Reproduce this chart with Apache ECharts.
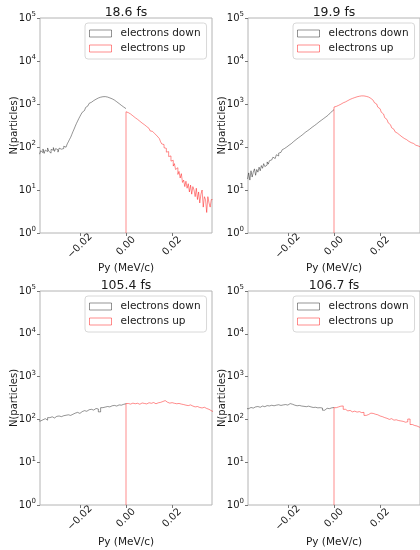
<!DOCTYPE html>
<html>
<head>
<meta charset="utf-8">
<script src="https://cdn.jsdelivr.net/npm/echarts@6/dist/echarts.min.js"></script>
<style>
  html, body { margin: 0; padding: 0; background: #ffffff; }
  #chart { width: 420px; height: 550px; }
</style>
</head>
<body>
<div id="chart"></div>
<script>
// Py spectra of spin-down / spin-up electrons at four snapshot times
const panelTitles = ['18.6 fs', '19.9 fs', '105.4 fs', '106.7 fs'];
const seriesNames = ['electrons down', 'electrons up'];
const xTickValues = [-0.02, 0, 0.02];
const yTickValues = [1, 10, 100, 1000, 10000, 100000];
const xLimit = 0.0373;

// histogram bin widths (MeV/c)
const binWidthEarly = 0.0005;
const binWidthLate = 0.001;

// counts per bin; "down" bins end at Py = 0, "up" bins start at Py = 0
const down18_6 = [68, 82, 74, 90, 71, 85, 78, 95, 80, 72, 88, 84, 97, 79, 92, 86, 76, 94, 89, 98,
  92, 104, 99, 110, 118, 132, 150, 168, 196, 228,
  262, 305, 352, 400, 455, 512, 575, 640, 705, 770,
  830, 905, 975, 1035, 1095, 1150, 1200, 1248, 1290, 1335,
  1378, 1410, 1440, 1465, 1478, 1490, 1485, 1470, 1450, 1420,
  1385, 1350, 1318, 1275, 1232, 1180, 1125, 1075, 1025, 975,
  930, 890, 850, 815, 780];
const up18_6 = [660, 630, 600, 585, 560, 530, 505, 480, 462, 440,
  420, 398, 385, 360, 345, 330, 310, 298, 282, 270,
  255, 236, 231, 208, 204, 184, 180, 162, 156, 141,
  132, 118, 114, 96, 93, 76, 78, 60, 62, 47,
  49, 36, 41, 30, 33, 23, 27, 19, 24, 15,
  17, 12, 16, 11, 14, 9, 13, 8, 12, 10,
  7, 11, 6, 9, 5, 8, 10, 4, 7, 6,
  3, 7, 5, 4, 6];
const down19_9 = [18, 25, 17, 28, 20, 26, 31, 22, 30, 26,
  34, 28, 37, 32, 41, 35, 38, 45, 40, 48,
  50, 47, 58, 54, 60, 66, 62, 72, 75, 80,
  86, 92, 88, 100, 104, 110, 116, 120, 130, 134,
  142, 148, 158, 163, 174, 178, 192, 196, 210, 218,
  232, 238, 254, 260, 278, 288, 305, 314, 334, 345,
  372, 382, 408, 418, 444, 458, 488, 502, 534, 552,
  608, 630, 668, 700, 740];
const up19_9 = [850, 880, 905, 930, 960, 990, 1040, 1065, 1090, 1120,
  1160, 1200, 1250, 1280, 1320, 1350, 1380, 1410, 1440, 1470,
  1500, 1515, 1530, 1545, 1550, 1540, 1525, 1505, 1480, 1450,
  1410, 1350, 1290, 1220, 1150, 1075, 1000, 920, 845, 775,
  710, 645, 585, 530, 480, 435, 400, 365, 330, 305,
  280, 258, 240, 225, 210, 200, 190, 178, 172, 165,
  158, 150, 148, 138, 135, 128, 126, 118, 121, 112,
  110, 104, 106, 98, 100];
const down105_4 = [92, 98, 104, 96, 110, 115, 108, 118, 120, 116,
  122, 125, 128, 124, 132, 140, 146, 138, 152, 160,
  155, 168, 172, 165, 180, 175, 150, 188, 194, 200,
  196, 208, 212, 205, 218, 215, 225, 232];
const up105_4 = [235, 228, 240, 232, 238, 226, 242, 236, 230, 245,
  238, 248, 232, 244, 250, 262, 275, 252, 240, 246,
  238, 232, 236, 228, 222, 215, 210, 218, 205, 196,
  200, 190, 185, 192, 180, 172, 160, 150];
const down106_7 = [178, 190, 184, 196, 200, 192, 205, 198, 210, 206,
  214, 208, 215, 220, 212, 218, 222, 216, 234, 226,
  215, 208, 212, 205, 202, 198, 204, 196, 190, 192,
  186, 188, 184, 164, 182, 178, 186, 190];
const up106_7 = [188, 196, 204, 206, 172, 158, 162, 150, 156, 148,
  152, 144, 146, 124, 130, 140, 138, 132, 128, 120,
  116, 110, 106, 100, 104, 96, 98, 94, 92, 90,
  86, 88, 102, 76, 72, 70, 66, 65];

const panels = [
  { down: down18_6, up: up18_6, bin: binWidthEarly },
  { down: down19_9, up: up19_9, bin: binWidthEarly },
  { down: down105_4, up: up105_4, bin: binWidthLate },
  { down: down106_7, up: up106_7, bin: binWidthLate }
];

// panel placement (px) and gap below each panel to its x-axis title
const gridBoxes = [
  { left: 40, top: 18, width: 172, height: 215 },
  { left: 248, top: 18, width: 172, height: 215 },
  { left: 40, top: 291, width: 172, height: 214 },
  { left: 248, top: 291, width: 172, height: 214 }
];
const xNameGaps = [30, 30, 32, 32];

const FONT = 'DejaVu Sans';
const TEXT = '#1a1a1a';
const FRAME = '#b4b4b4';
const DOWN_COLOR = 'rgba(0,0,0,0.42)';
const UP_COLOR = 'rgba(255,0,0,0.45)';

// outline of a step histogram; optionally rises from the axis floor at its first edge
function stepOutline(firstEdge, width, counts, riseFromFloor) {
  const pts = riseFromFloor ? [[firstEdge, 1]] : [];
  counts.forEach((c, i) => {
    pts.push([firstEdge + i * width, c]);
    pts.push([firstEdge + (i + 1) * width, c]);
  });
  return pts;
}

const fmtTick = v => {
  const s = Math.abs(v).toFixed(2);
  return v < 0 ? '\u2212' + s : s;
};

const grids = [], xAxes = [], yAxes = [], series = [], titles = [], legends = [];

panels.forEach((p, k) => {
  const g = gridBoxes[k];
  grids.push(Object.assign({ show: true, borderColor: FRAME, borderWidth: 1, backgroundColor: '#fff' }, g));

  xAxes.push({
    type: 'value', gridIndex: k, min: -xLimit, max: xLimit,
    name: 'Py (MeV/c)', nameLocation: 'middle', nameGap: xNameGaps[k], nameMoveOverlap: false,
    nameTextStyle: { fontFamily: FONT, fontSize: 10.5, color: TEXT },
    axisLine: { show: false, onZero: false },
    splitLine: { show: false },
    axisTick: { show: true, length: 3, inside: false, customValues: xTickValues, lineStyle: { color: '#777' } },
    axisLabel: {
      customValues: xTickValues, rotate: 45, align: 'center', verticalAlign: 'middle', margin: 13,
      fontFamily: FONT, fontSize: 10, color: TEXT, formatter: fmtTick
    }
  });

  yAxes.push({
    type: 'log', logBase: 10, gridIndex: k, min: 1, max: 100000,
    name: 'N(particles)', nameLocation: 'middle', nameRotate: 90, nameGap: 21, nameMoveOverlap: false,
    nameTextStyle: { fontFamily: FONT, fontSize: 10, color: TEXT },
    axisLine: { show: false, onZero: false },
    splitLine: { show: false },
    axisTick: { show: true, length: 3, customValues: yTickValues, lineStyle: { color: '#777' } },
    axisLabel: {
      customValues: yTickValues, margin: 4,
      formatter: v => '{b|10}{s|' + Math.round(Math.log10(v)) + '}',
      rich: {
        b: { fontFamily: FONT, fontSize: 10, color: TEXT, lineHeight: 14 },
        s: { fontFamily: FONT, fontSize: 7, color: TEXT, verticalAlign: 'top', lineHeight: 14 }
      }
    }
  });

  const nDown = p.down.length;
  series.push({
    type: 'line', name: seriesNames[0], xAxisIndex: k, yAxisIndex: k,
    data: stepOutline(-nDown * p.bin, p.bin, p.down, false),
    symbol: 'none', clip: true, animation: false,
    lineStyle: { color: DOWN_COLOR, width: 1 }, itemStyle: { color: DOWN_COLOR }
  });
  series.push({
    type: 'line', name: seriesNames[1], xAxisIndex: k, yAxisIndex: k,
    data: stepOutline(0, p.bin, p.up, true),
    symbol: 'none', clip: true, animation: false,
    lineStyle: { color: UP_COLOR, width: 1 }, itemStyle: { color: UP_COLOR }
  });

  titles.push({
    text: panelTitles[k], left: g.left + g.width / 2, top: g.top - 12, textAlign: 'center', padding: 0,
    textStyle: { fontFamily: FONT, fontSize: 12.5, fontWeight: 'normal', color: TEXT }
  });

  legends.push({
    orient: 'vertical', left: g.left + 45, top: g.top + 5,
    padding: [5, 6, 5, 4], itemGap: 4, itemWidth: 22, itemHeight: 7,
    backgroundColor: 'rgba(255,255,255,0.8)', borderColor: '#d8d8d8', borderWidth: 1, borderRadius: 3,
    selectedMode: false,
    textStyle: { fontFamily: FONT, fontSize: 10.5, color: TEXT, padding: [0, 0, 0, 4] },
    data: [
      { name: seriesNames[0], icon: 'rect', itemStyle: { color: 'rgba(0,0,0,0)', borderColor: DOWN_COLOR, borderWidth: 1 } },
      { name: seriesNames[1], icon: 'rect', itemStyle: { color: 'rgba(0,0,0,0)', borderColor: UP_COLOR, borderWidth: 1 } }
    ]
  });
});

const chart = echarts.init(document.getElementById('chart'), null, { renderer: 'canvas' });
chart.setOption({
  animation: false,
  backgroundColor: '#ffffff',
  title: titles,
  legend: legends,
  grid: grids,
  xAxis: xAxes,
  yAxis: yAxes,
  series: series
});
</script>
</body>
</html>
